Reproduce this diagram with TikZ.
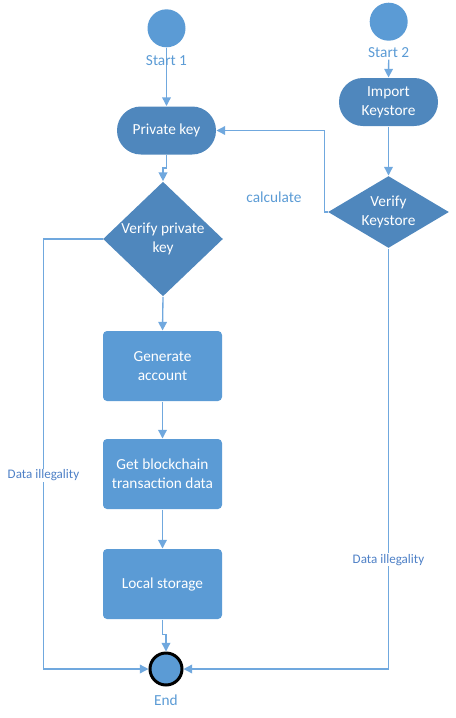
\documentclass[tikz,border=0pt]{standalone}
\usepackage{fontspec}
\setmainfont{Carlito}
\usetikzlibrary{shapes.geometric,arrows.meta}

\definecolor{boxdark}{RGB}{79,135,189}
\definecolor{boxlight}{RGB}{91,155,213}
\definecolor{flowline}{RGB}{112,168,222}
\definecolor{labelblue}{RGB}{79,129,199}

\tikzset{every picture/.style={line width=0.75pt}}
\tikzset{
  startdot/.style={circle,fill=boxlight,draw=none,minimum size=28.5pt,inner sep=0pt},
  enddot/.style={circle,fill=boxlight,draw=black,line width=2.25pt,minimum size=24pt,inner sep=0pt},
  pill/.style={rectangle,fill=boxdark,draw=none,rounded corners=17.9pt,minimum width=74.25pt,minimum height=36pt,text=white,align=center,font=\fontsize{11.5}{14}\selectfont},
  decide/.style={diamond,fill=boxdark,draw=none,inner sep=0pt,text=white,align=center,font=\fontsize{11.5}{14}\selectfont},
  task/.style={rectangle,fill=boxlight,draw=none,rounded corners=3pt,minimum width=89.25pt,minimum height=52.5pt,text=white,align=center,font=\fontsize{11.5}{14}\selectfont},
  tag/.style={text=boxlight,inner sep=0.75pt,font=\fontsize{11.5}{14}\selectfont},
  warn/.style={text=labelblue,fill=white,inner sep=0.75pt,font=\fontsize{9.8}{12}\selectfont},
  flow/.style={draw=flowline,line width=1pt,-{Triangle[width=6.5pt,length=6.5pt]}}
}

\begin{document}
\begin{tikzpicture}[x=0.75pt,y=0.75pt,yscale=-1,xscale=1]
\useasboundingbox (0,0) rectangle (455,718);

% Start points
\node [startdot] (s1) at (166.5,28.3) {};
\node [startdot] (s2) at (388.7,21.7) {};
% Main flow
\node [pill] (pk) at (166.5,130.5) {Private key};
\node [pill] (ik) at (388.5,102) {Import\\Keystore};
\node [decide,minimum width=90pt,minimum height=82.5pt] (vpk) at (163,239) {Verify private\\key};
\node [decide,shape aspect=1.7,minimum width=90.75pt,minimum height=54pt] (vks) at (388.5,212) {Verify\\Keystore};
\node [task] (ga) at (162.5,366) {Generate\\account};
\node [task] (gb) at (162.5,474) {Get blockchain\\transaction data};
\node [task] (ls) at (162.5,584) {Local storage};
% End point
\node [enddot] (end) at (166,669) {};

% line runs under the Start 1 label
\draw [flow] (s1) -- (pk);

% Text labels
\node [tag] (t1) at (166.5,61) {Start 1};
\node [tag] (t2) at (388.7,53) {Start 2};
\node [tag] (te) at (166,700) {End};
\node [tag] (calc) at (274,197) {calculate};

% Connectors
\draw [flow] (t2.south) -- (ik.north);
\draw [flow] (pk.south) -- ++(0,13) -| (vpk.north);
\draw [flow] (vpk.south) -- (ga.north);
\draw [flow] (ga.south) -- (gb.north);
\draw [flow] (gb.south) -- (ls.north);
\draw [flow] (ls.south) -- ++(0,15) -| (end.north);
\draw [flow] (ik.south) -- (vks.north);
\draw [flow] (vks.west) -- ++(-3,0) |- (pk.east);
\draw [flow] (vpk.west) -- ++(-59,0) |- (end.west) node [warn,pos=0.275] (di1) {Data illegality};
\draw [flow] (vks.south) |- (end.east) node [warn,pos=0.37] (di2) {Data illegality};

\end{tikzpicture}
\end{document}
